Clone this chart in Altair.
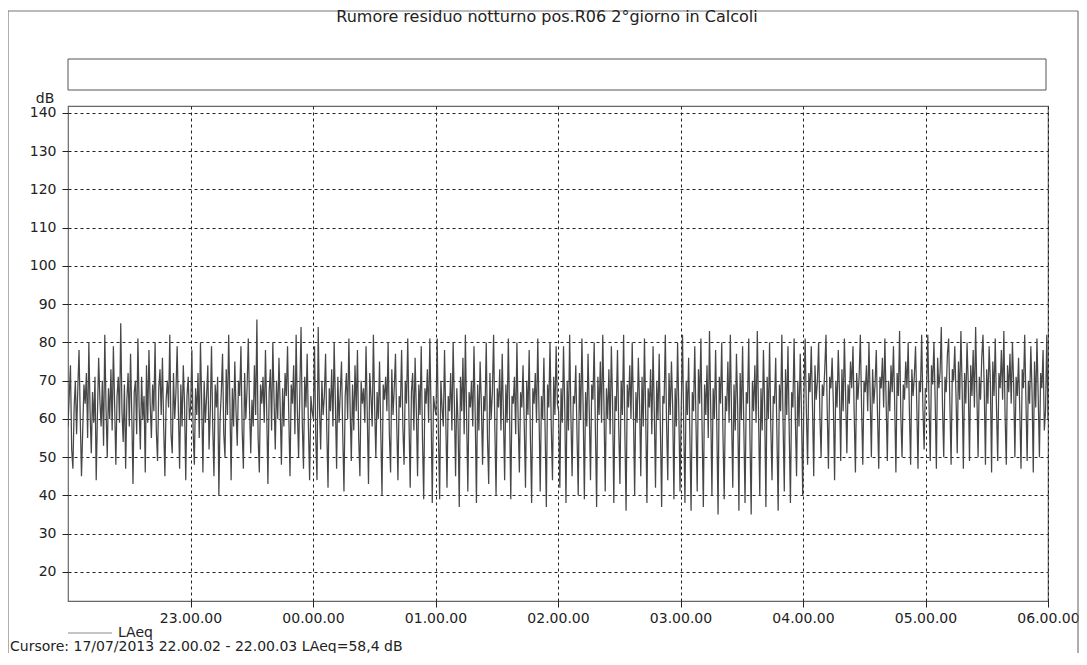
import json
import altair as alt
import pandas as pd

# LAeq values (dB) (22:00 -> 06:00)
h22 = [58, 66, 74, 52, 47, 63, 70, 56, 68, 78, 60, 45, 57, 69, 64, 72, 55, 80, 62, 51,
       67, 59, 71, 44, 61, 76, 65, 58, 70, 53, 82, 63, 50, 68, 60, 73, 57, 79, 64, 48,
       66, 71, 59, 85, 62, 54, 69, 47, 65, 72, 58, 77, 61, 43, 67, 70, 56, 81, 63, 52,
       71, 60, 66, 46, 74, 59, 78, 64, 55, 69, 62, 80, 57, 49, 68, 73, 61, 76, 58, 45,
       65, 70, 63, 82, 56, 51, 72, 60, 67, 79, 62, 47, 69, 58, 74, 64, 44, 66, 71, 60]
h23 = [63, 78, 57, 48, 68, 61, 72, 55, 80, 64, 46, 70, 59, 66, 74, 52, 62, 79, 58, 45,
       69, 63, 71, 40, 60, 67, 77, 56, 50, 73, 61, 82, 64, 44, 68, 58, 75, 62, 53, 70,
       66, 79, 57, 47, 72, 60, 68, 81, 63, 51, 65, 58, 74, 61, 86, 55, 46, 69, 64, 71,
       59, 78, 62, 43, 67, 73, 57, 80, 65, 52, 70, 60, 76, 63, 48, 68, 58, 72, 66, 79,
       61, 45, 69, 64, 74, 56, 82, 62, 50, 67, 84, 59, 47, 71, 63, 77, 58, 44, 66, 62]
h00 = [60, 79, 55, 44, 84, 63, 52, 70, 61, 66, 77, 57, 42, 68, 62, 73, 58, 80, 64, 47,
       71, 59, 67, 75, 56, 41, 66, 72, 60, 81, 63, 49, 69, 57, 74, 62, 78, 55, 45, 70,
       64, 68, 59, 79, 61, 43, 72, 66, 58, 82, 63, 50, 67, 60, 75, 57, 40, 69, 65, 71,
       62, 80, 56, 46, 73, 61, 68, 77, 59, 44, 66, 63, 78, 58, 48, 70, 64, 81, 60, 42,
       67, 72, 57, 76, 62, 45, 69, 61, 79, 55, 39, 68, 64, 73, 59, 81, 62, 38, 66, 63]
h01 = [61, 81, 56, 39, 70, 63, 58, 78, 60, 42, 66, 62, 72, 57, 80, 64, 45, 68, 59, 37,
       71, 62, 76, 56, 82, 60, 41, 67, 63, 70, 58, 79, 61, 38, 69, 57, 75, 64, 48, 66,
       62, 80, 55, 43, 72, 60, 67, 82, 58, 40, 68, 63, 73, 57, 77, 61, 44, 69, 59, 81,
       62, 39, 66, 64, 71, 56, 80, 60, 46, 67, 63, 74, 58, 42, 70, 61, 78, 55, 38, 68,
       64, 72, 59, 81, 62, 41, 66, 60, 76, 57, 37, 69, 63, 80, 58, 44, 71, 61, 79, 64]
h02 = [62, 42, 68, 59, 79, 63, 38, 70, 57, 82, 61, 45, 66, 64, 74, 56, 40, 72, 60, 81,
       63, 39, 67, 58, 77, 62, 44, 69, 65, 80, 57, 37, 71, 61, 75, 59, 82, 63, 41, 68,
       60, 73, 56, 79, 64, 38, 66, 62, 78, 58, 43, 70, 61, 82, 57, 36, 69, 63, 74, 60,
       80, 62, 40, 67, 59, 76, 64, 45, 71, 58, 81, 61, 38, 68, 63, 73, 56, 79, 62, 42,
       70, 60, 77, 57, 37, 66, 64, 82, 59, 44, 72, 61, 75, 63, 39, 68, 58, 80, 62, 41]
h03 = [63, 82, 58, 38, 70, 61, 76, 56, 36, 67, 62, 79, 59, 41, 73, 64, 81, 57, 37, 69,
       61, 74, 55, 83, 63, 40, 68, 60, 78, 58, 35, 71, 64, 80, 56, 39, 66, 62, 75, 59,
       82, 61, 42, 69, 57, 77, 63, 36, 72, 60, 79, 58, 38, 67, 64, 81, 55, 35, 70, 62,
       74, 59, 83, 61, 40, 68, 57, 78, 63, 37, 71, 60, 80, 58, 44, 66, 64, 76, 56, 36,
       69, 62, 82, 59, 41, 73, 61, 79, 57, 38, 67, 63, 81, 60, 45, 70, 58, 77, 62, 40]
h04 = [66, 81, 62, 48, 72, 67, 79, 63, 45, 74, 65, 70, 80, 61, 50, 69, 66, 73, 82, 62,
       47, 71, 68, 76, 64, 44, 70, 63, 78, 67, 49, 73, 62, 81, 66, 51, 69, 64, 75, 68,
       79, 61, 46, 72, 65, 71, 82, 63, 48, 70, 67, 74, 62, 80, 66, 50, 73, 64, 69, 78,
       61, 47, 71, 68, 76, 63, 81, 65, 49, 70, 62, 74, 67, 79, 64, 46, 72, 66, 83, 61,
       50, 69, 65, 75, 68, 80, 62, 48, 73, 66, 71, 79, 64, 47, 70, 67, 82, 63, 52, 68]
h05 = [67, 82, 64, 49, 74, 69, 80, 65, 47, 76, 68, 72, 84, 63, 50, 71, 67, 77, 81, 64,
       48, 73, 70, 79, 66, 51, 75, 65, 83, 68, 47, 72, 64, 80, 69, 49, 74, 66, 78, 63,
       84, 67, 50, 71, 65, 76, 82, 68, 48, 73, 64, 79, 70, 46, 75, 66, 81, 63, 49, 72,
       68, 78, 65, 83, 61, 48, 74, 67, 77, 64, 80, 69, 50, 71, 66, 76, 62, 47, 73, 68,
       82, 65, 49, 70, 64, 79, 67, 46, 75, 63, 81, 66, 50, 72, 68, 78, 57, 62, 82, 60]

x_tick_hours = [1, 2, 3, 4, 5, 6, 7, 8]
x_tick_labels = ["23.00.00", "00.00.00", "01.00.00", "02.00.00",
                 "03.00.00", "04.00.00", "05.00.00", "06.00.00"]
y_ticks = [20, 30, 40, 50, 60, 70, 80, 90, 100, 110, 120, 130, 140]

title_text = "Rumore residuo notturno pos.R06 2°giorno in Calcoli"
legend_text = "LAeq"
footer_text = "Cursore: 17/07/2013 22.00.02 - 22.00.03  LAeq=58,4 dB"
unit_text = "dB"

values = h22 + h23 + h00 + h01 + h02 + h03 + h04 + h05
n = len(values)
df = pd.DataFrame({"t": [8 * i / (n - 1) for i in range(n)], "db": values})

FONT = "DejaVu Sans"
INK = "#222222"
label_expr = json.dumps(x_tick_labels) + "[datum.value - 1]"

line = alt.Chart(df).mark_line(color="#474747", strokeWidth=1.25, clip=True).encode(
    x=alt.X("t:Q",
            scale=alt.Scale(domain=[0, 8], nice=False, zero=False),
            axis=alt.Axis(values=x_tick_hours, labelExpr=label_expr, title=None,
                          grid=True, gridDash=[3, 3], gridColor=INK, gridOpacity=1,
                          gridWidth=1, domain=False, ticks=True, tickSize=6,
                          tickColor=INK, labelFont=FONT, labelFontSize=14,
                          labelColor=INK, labelPadding=4, labelFlush=False,
                          labelOverlap=False)),
    y=alt.Y("db:Q",
            scale=alt.Scale(domain=[12.4, 141.8], nice=False, zero=False),
            axis=alt.Axis(values=y_ticks, title=None, grid=True, gridDash=[3, 3],
                          gridColor=INK, gridOpacity=1, gridWidth=1, domain=False,
                          ticks=True, tickSize=6, tickColor=INK, labelFont=FONT,
                          labelFontSize=14, labelColor=INK, labelPadding=6,
                          labelOverlap=False)),
)

one = pd.DataFrame({"k": [0]})
base = alt.Chart(one)

frame_top = base.mark_rule(color="#777777", strokeWidth=1.2).encode(
    x=alt.value(-60), x2=alt.value(1010), y=alt.value(-95))
frame_left = base.mark_rule(color="#777777", strokeWidth=1.2).encode(
    x=alt.value(-60), y=alt.value(-95), y2=alt.value(547))
frame_right = base.mark_rule(color="#777777", strokeWidth=1.2).encode(
    x=alt.value(1010), y=alt.value(-95), y2=alt.value(547))

box = base.mark_rect(fill="white", stroke="#555555", strokeWidth=1).encode(
    x=alt.value(0), x2=alt.value(978), y=alt.value(-47), y2=alt.value(-16))

title = base.mark_text(text=title_text, font=FONT, fontSize=16, color=INK,
                       align="center", baseline="middle").encode(
    x=alt.value(479), y=alt.value(-89))
unit = base.mark_text(text=unit_text, font=FONT, fontSize=14, color=INK,
                      align="center", baseline="middle").encode(
    x=alt.value(-23), y=alt.value(-7))
leg_line = base.mark_rule(color="#888888", strokeWidth=1).encode(
    x=alt.value(0), x2=alt.value(44), y=alt.value(527))
leg_text = base.mark_text(text=legend_text, font=FONT, fontSize=14, color=INK,
                          align="left", baseline="middle").encode(
    x=alt.value(50), y=alt.value(527))
footer = base.mark_text(text=footer_text, font=FONT, fontSize=14, color=INK,
                        align="left", baseline="middle").encode(
    x=alt.value(-58), y=alt.value(541))

chart = alt.layer(
    line, frame_top, frame_left, frame_right, box, title, unit,
    leg_line, leg_text, footer
).properties(
    width=980, height=495,
    autosize=alt.AutoSizeParams(type="none"),
    padding={"left": 60, "top": 98, "right": 31, "bottom": 52},
    background="white",
).configure_view(stroke="#666666", strokeWidth=1.2)

chart.save("out.html", embed_options={"renderer": "svg", "actions": False})
